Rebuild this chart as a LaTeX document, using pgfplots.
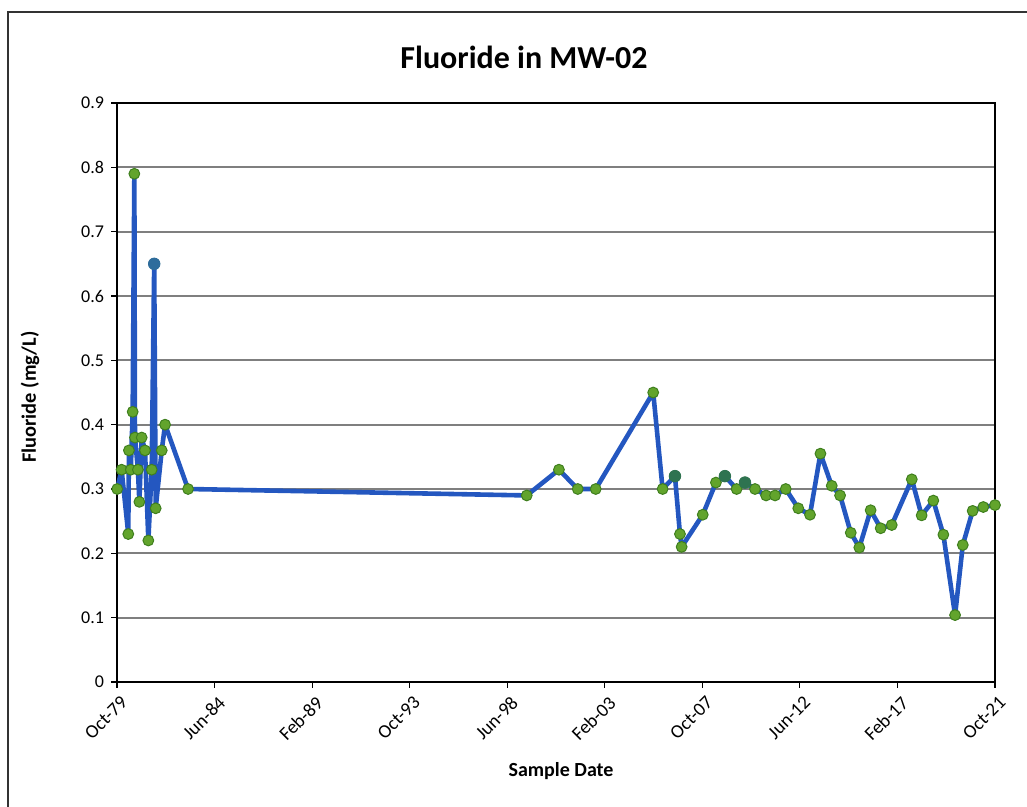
\documentclass[border=0pt]{standalone}
\usepackage{pgfplots}
\pgfplotsset{compat=1.18}
\usepackage{fontspec}
\setmainfont{Carlito}
\definecolor{serieblue}{HTML}{2457C0}
\definecolor{markgreen}{HTML}{62A42C}
\definecolor{markedge}{HTML}{3F7F1E}
\definecolor{darkmark}{HTML}{2E7350}
\definecolor{darkblue}{HTML}{2E6C9C}
\definecolor{gridgray}{HTML}{7F7F7F}

% Fluoride results, MW-02 (decimal year, mg/L)
\pgfplotstableread{
date     F
1979.76  0.30
1979.97  0.33
1980.29  0.23
1980.32  0.36
1980.41  0.33
1980.50  0.42
1980.58  0.79
1980.61  0.38
1980.75  0.33
1980.82  0.28
1980.93  0.38
1981.09  0.36
1981.25  0.22
1981.41  0.33
1981.53  0.65
1981.60  0.27
1981.89  0.36
1982.05  0.40
1983.15  0.30
1999.35  0.29
2000.89  0.33
2001.79  0.30
2002.65  0.30
2005.40  0.45
2005.85  0.30
2006.44  0.32
2006.68  0.23
2006.76  0.21
2007.77  0.26
2008.40  0.31
2008.83  0.32
2009.39  0.30
2009.79  0.31
2010.27  0.30
2010.80  0.29
2011.23  0.29
2011.74  0.30
2012.34  0.27
2012.90  0.26
2013.40  0.355
2013.94  0.305
2014.34  0.29
2014.85  0.232
2015.26  0.209
2015.80  0.267
2016.28  0.239
2016.81  0.244
2017.77  0.315
2018.24  0.259
2018.80  0.282
2019.28  0.229
2019.84  0.104
2020.21  0.213
2020.68  0.266
2021.19  0.272
2021.75  0.275
}\fluoride

\begin{document}
\begin{tikzpicture}[x=0.5pt,y=0.5pt]
% page area and chart frame
\useasboundingbox (-117,-125) rectangle (910,682);
\draw[line width=1pt, black!80] (-109,-140) -- (-109,670) -- (930,670);
\begin{axis}[
  at={(0,0)}, anchor=south west,
  scale only axis,
  width=439pt, height=289.5pt,
  xmin=1979.75, xmax=2021.75,
  ymin=0, ymax=0.9,
  xtick={1979.75,1984.4167,1989.0833,1993.75,1998.4167,2003.0833,2007.75,2012.4167,2017.0833,2021.75},
  xticklabels={Oct-79,Jun-84,Feb-89,Oct-93,Jun-98,Feb-03,Oct-07,Jun-12,Feb-17,Oct-21},
  ytick={0,0.1,...,0.9},
  yticklabel style={/pgf/number format/fixed,/pgf/number format/precision=1,font=\fontsize{9}{10}\selectfont},
  /pgf/number format/assume math mode=true,
  xticklabel style={rotate=45, anchor=north east, font=\fontsize{9.5}{10}\selectfont, xshift=2pt, yshift=0pt},
  tick align=outside,
  major tick length=3pt,
  tick style={black, line width=0.6pt},
  xtick pos=bottom, ytick pos=left,
  ymajorgrids,
  grid style={gridgray, line width=1pt},
  axis line style={black, line width=1pt},
  clip=false,
]
\addplot[serieblue, line width=2.3pt, line join=round, line cap=round,
  mark=*, mark size=2.7pt,
  mark options={fill=markgreen, draw=markedge, line width=0.5pt}]
  table[x=date, y=F] {\fluoride};
% darker markers on a few samples
\addplot[only marks, mark=*, mark size=2.9pt, mark options={fill=darkblue, draw=darkblue}]
  coordinates {(1981.53,0.65)};
\addplot[only marks, mark=*, mark size=2.9pt, mark options={fill=darkmark, draw=darkmark}]
  coordinates {(2006.44,0.32) (2008.83,0.32) (2009.79,0.31)};
\end{axis}
\node[font=\bfseries\fontsize{16}{19}\selectfont] at (407,625) {Fluoride in MW-02};
\node[font=\bfseries\fontsize{10}{12}\selectfont] at (444,-89) {Sample Date};
\node[font=\bfseries\fontsize{10.2}{12}\selectfont, rotate=90] at (-87,285) {Fluoride (mg/L)};
\end{tikzpicture}
\end{document}
